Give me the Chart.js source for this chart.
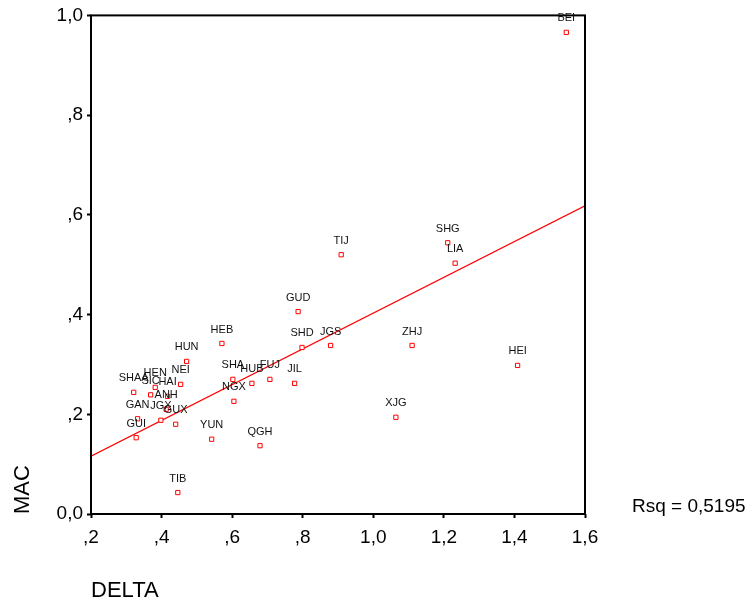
<!DOCTYPE html>
<html>
<head>
<meta charset="utf-8">
<script src="https://cdn.jsdelivr.net/npm/chart.js@4.4.0/dist/chart.umd.min.js"></script>
<style>
  body { margin: 0; background: #fff; }
  canvas { display: block; }
</style>
</head>
<body>
<canvas id="scatter" width="749" height="605"></canvas>
<script>
// province codes and their values
const provinces = ['BEI', 'TIJ', 'HEB', 'SHA', 'NEI', 'LIA', 'JIL', 'HEI', 'SHG', 'JGS',
                   'ZHJ', 'ANH', 'FUJ', 'JGX', 'SHD', 'HEN', 'HUB', 'HUN', 'GUD', 'GUX',
                   'HAI', 'SIC', 'GUI', 'YUN', 'TIB', 'SHAA', 'GAN', 'QGH', 'NGX', 'XJG'];
const deltaValues = [1.547, 0.909, 0.571, 0.602, 0.454, 1.232, 0.777, 1.409, 1.211, 0.879,
                     1.110, 0.413, 0.707, 0.398, 0.798, 0.382, 0.656, 0.471, 0.787, 0.440,
                     0.417, 0.369, 0.328, 0.542, 0.446, 0.321, 0.332, 0.679, 0.605, 1.064];
const macValues = [0.966, 0.520, 0.342, 0.270, 0.260, 0.503, 0.262, 0.298, 0.544, 0.338,
                   0.338, 0.210, 0.270, 0.188, 0.334, 0.254, 0.262, 0.306, 0.406, 0.180,
                   0.236, 0.239, 0.153, 0.150, 0.043, 0.244, 0.191, 0.137, 0.226, 0.194];

// fitted line, end points at the plot edges
const fitX = [0.2, 1.6];
const fitY = [0.116, 0.618];
const rsqLabel = 'Rsq = 0,5195';

// tick labels as printed
const xTickLabels = [',2', ',4', ',6', ',8', '1,0', '1,2', '1,4', '1,6'];
const yTickLabels = ['0,0', ',2', ',4', ',6', ',8', '1,0'];

const FONT = '"Liberation Sans", Arial, sans-serif';

// draw the four sides of the plot box
const frame = {
  id: 'frame',
  afterDatasetsDraw(chart) {
    const { ctx, chartArea: a } = chart;
    ctx.save();
    ctx.strokeStyle = '#000';
    ctx.lineWidth = 2;
    ctx.strokeRect(a.left, a.top, a.right - a.left, a.bottom - a.top);
    ctx.restore();
  }
};

// province codes above each marker, plus the R square note
const pointLabels = {
  id: 'pointLabels',
  afterDatasetsDraw(chart) {
    const ctx = chart.ctx;
    const meta = chart.getDatasetMeta(0);
    ctx.save();
    ctx.font = '11px ' + FONT;
    ctx.fillStyle = '#111';
    ctx.textAlign = 'center';
    ctx.textBaseline = 'middle';
    meta.data.forEach((pt, i) => {
      ctx.fillText(provinces[i], pt.x, pt.y - 14);
    });
    ctx.font = '19px ' + FONT;
    ctx.textAlign = 'left';
    ctx.textBaseline = 'alphabetic';
    ctx.fillStyle = '#000';
    ctx.fillText(rsqLabel, 632, chart.chartArea.bottom - 2);
    ctx.restore();
  }
};

const points = deltaValues.map((d, i) => ({ x: d, y: macValues[i] }));
const fitLine = fitX.map((d, i) => ({ x: d, y: fitY[i] }));

new Chart(document.getElementById('scatter'), {
  type: 'scatter',
  data: {
    datasets: [{
      data: points,
      pointStyle: 'rect',
      pointRadius: 3,
      pointBorderWidth: 1,
      pointBorderColor: '#ff0000',
      pointBackgroundColor: '#ffffff',
      showLine: false
    }, {
      type: 'line',
      data: fitLine,
      borderColor: '#ff0000',
      borderWidth: 1.2,
      pointRadius: 0,
      fill: false
    }]
  },
  options: {
    responsive: false,
    animation: false,
    devicePixelRatio: 1,
    layout: { padding: { left: 0, right: 164, top: 14, bottom: 0 } },
    plugins: {
      legend: { display: false },
      tooltip: { enabled: false }
    },
    scales: {
      x: {
        type: 'linear',
        min: 0.2,
        max: 1.6,
        afterFit(scale) { scale.height = 91; },
        ticks: {
          stepSize: 0.2,
          color: '#000',
          padding: 8,
          font: { family: FONT, size: 19 },
          callback: (v, i) => xTickLabels[i]
        },
        grid: { drawOnChartArea: false, tickLength: 4, tickWidth: 2, tickColor: '#000' },
        border: { display: false },
        title: {
          display: true,
          text: 'DELTA',
          align: 'start',
          color: '#000',
          font: { family: FONT, size: 22 },
          padding: { top: 0, bottom: 1 }
        }
      },
      y: {
        type: 'linear',
        min: 0,
        max: 1,
        afterFit(scale) { scale.width = 91; },
        ticks: {
          stepSize: 0.2,
          color: '#000',
          padding: 4,
          font: { family: FONT, size: 19 },
          callback: (v, i) => yTickLabels[i]
        },
        grid: { drawOnChartArea: false, tickLength: 4, tickWidth: 2, tickColor: '#000' },
        border: { display: false },
        title: {
          display: true,
          text: 'MAC',
          align: 'start',
          color: '#000',
          font: { family: FONT, size: 22 },
          padding: { top: 10, bottom: 0 }
        }
      }
    }
  },
  plugins: [frame, pointLabels]
});
</script>
</body>
</html>
